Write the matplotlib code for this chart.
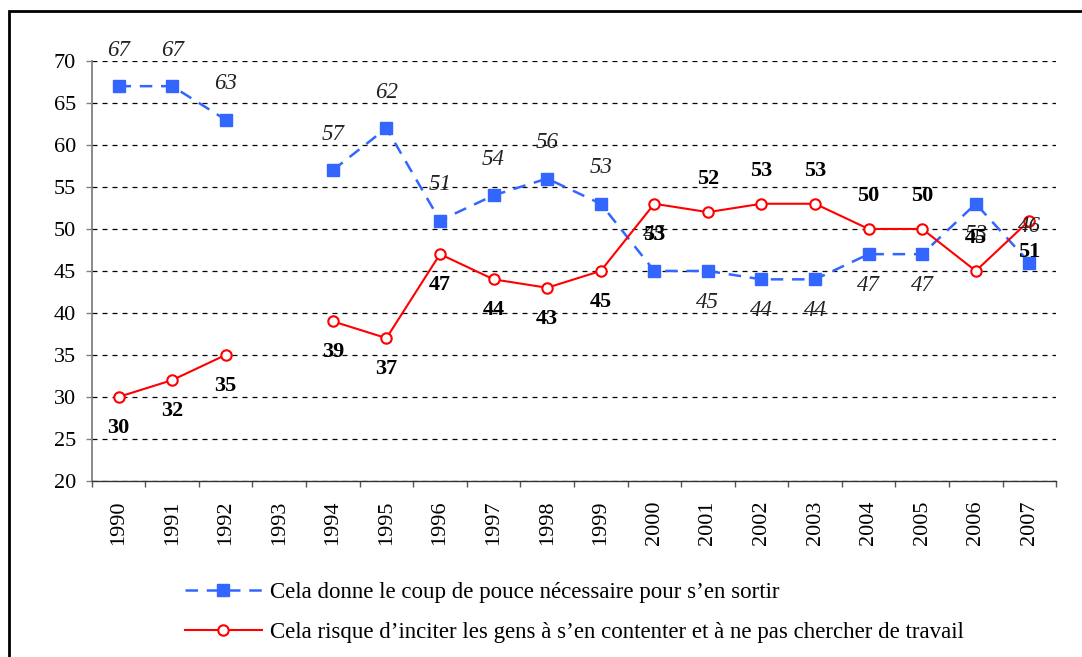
import numpy as np
import matplotlib
matplotlib.use("Agg")
import matplotlib.pyplot as plt
from matplotlib.patches import Rectangle

plt.rcParams['font.family'] = ['Liberation Serif', 'DejaVu Serif']

years = ['1990', '1991', '1992', '1993', '1994', '1995', '1996', '1997', '1998',
         '1999', '2000', '2001', '2002', '2003', '2004', '2005', '2006', '2007']
coup_de_pouce = [67, 67, 63, np.nan, 57, 62, 51, 54, 56, 53, 45, 45, 44, 44, 47, 47, 53, 46]
risque = [30, 32, 35, np.nan, 39, 37, 47, 44, 43, 45, 53, 52, 53, 53, 50, 50, 45, 51]

label_bleu = "Cela donne le coup de pouce nécessaire pour s\u2019en sortir"
label_rouge = "Cela risque d\u2019inciter les gens à s\u2019en contenter et à ne pas chercher de travail"

# +1 : étiquette au-dessus du point, -1 : en dessous
cote_bleu = [1, 1, 1, 0, 1, 1, 1, 1, 1, 1, 1, -1, -1, -1, -1, -1, -1, 1]
cote_rouge = [-1, -1, -1, 0, -1, -1, -1, -1, -1, -1, -1, 1, 1, 1, 1, 1, 1, -1]

BLEU = '#3366FF'
ROUGE = '#FF0000'

fig = plt.figure(figsize=(10.82, 6.57), dpi=100)
ax = fig.add_axes([0.0848, 0.268, 0.8913, 0.6392])

x = np.arange(len(years))
ax.plot(x, coup_de_pouce, color=BLEU, lw=1.8, linestyle=(0, (5, 3.5)),
        marker='s', markersize=8.5, markerfacecolor=BLEU, markeredgecolor=BLEU,
        label=label_bleu, zorder=3)
ax.plot(x, risque, color=ROUGE, lw=1.5, marker='o', markersize=7.5,
        markerfacecolor='white', markeredgecolor=ROUGE, markeredgewidth=1.5,
        label=label_rouge, zorder=4)

for i, v in enumerate(coup_de_pouce):
    if np.isnan(v):
        continue
    dy = 4.3 if cote_bleu[i] > 0 else -3.7
    ax.text(i, v + dy, f"{v:.0f}", ha='center', va='center', fontsize=16.5,
            style='italic', color='#222222', zorder=5)
for i, v in enumerate(risque):
    if np.isnan(v):
        continue
    dy = 3.9 if cote_rouge[i] > 0 else -3.7
    ax.text(i, v + dy, f"{v:.0f}", ha='center', va='center', fontsize=16,
            fontweight='bold', color='black', zorder=5)

ax.set_xlim(-0.5, len(years) - 0.5)
ax.set_ylim(20, 70)
ax.set_yticks(range(20, 71, 5))
ax.tick_params(axis='y', labelsize=16, length=4.5, width=1, color='#808080', pad=7)
ax.set_xticks(x)
ax.set_xticklabels(years, rotation=90)
ax.set_xticks(np.arange(-0.5, len(years), 1), minor=True)
ax.tick_params(axis='x', which='major', length=0, labelsize=16, pad=14)
ax.tick_params(axis='x', which='minor', length=4.5, width=1, color='#555555')

ax.yaxis.grid(True, color='black', lw=0.9, linestyle=(0, (4, 4)))
ax.set_axisbelow(True)
for s in ['top', 'right']:
    ax.spines[s].set_visible(False)
ax.spines['left'].set_color('#808080')
ax.spines['left'].set_linewidth(1.3)
ax.spines['bottom'].set_color('#333333')
ax.spines['bottom'].set_linewidth(1.0)

fig.legend(loc='upper left', bbox_to_anchor=(0.171, 0.1145), frameon=False,
           fontsize=16.5, handlelength=3.35, handletextpad=0.35, labelspacing=0.82,
           borderaxespad=0, borderpad=0)

# cadre autour du graphique
fig.patches.append(Rectangle((8.5 / 1082, -0.1), 1.2, 1 - 11 / 657 + 0.1,
                             transform=fig.transFigure, fill=False,
                             edgecolor='black', lw=2))

fig.savefig('out.png', dpi=100)
